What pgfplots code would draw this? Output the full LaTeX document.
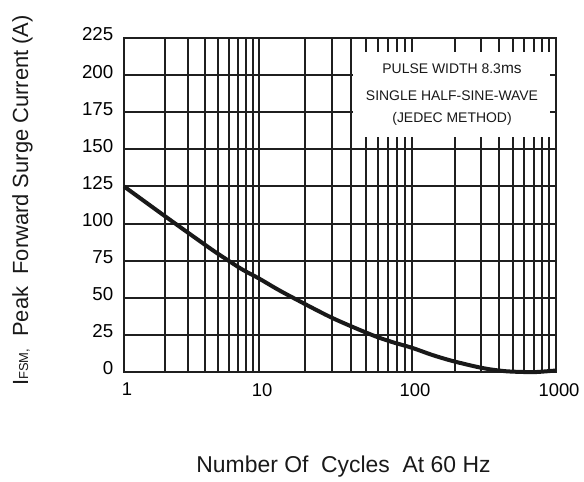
\documentclass[border=0pt]{standalone}
\usepackage{fontspec}
\setmainfont{Liberation Sans}
\usepackage{pgfplots}
\pgfplotsset{compat=1.18}
\begin{document}
\begin{tikzpicture}
\path[use as bounding box] (0bp,0bp) rectangle (584bp,482bp);
\begin{axis}[
  at={(124bp,110bp)}, anchor=south west,
  scale only axis, width=432bp, height=334bp,
  x coord trafo/.code={%
    \pgfmathparse{log10(#1)}%
    \let\u\pgfmathresult
    \pgfmathparse{(\u<=1)*(135*\u) + (\u>1)*(\u<=2)*(135+153*(\u-1)) + (\u>2)*(288+144*(\u-2))}%
  },
  xmin=1, xmax=1000, ymin=0, ymax=225,
  xtick={1,10,100,1000}, xticklabels={1,10,100,1000},
  minor xtick={2,3,4,5,6,7,8,9,20,30,40,50,60,70,80,90,200,300,400,500,600,700,800,900},
  ytick={0,25,...,225},
  xmajorgrids=true, xminorgrids=true, ymajorgrids=true,
  major grid style={black!88, line width=2bp},
  minor grid style={black!88, line width=2bp},
  major tick length=0pt, minor tick length=0pt,
  axis line style={black!88, line width=2.2bp},
  /pgf/number format/assume math mode=true,
  xticklabel style={font=\fontsize{18.5}{20}\selectfont, anchor=north, inner sep=0pt, yshift=-11bp, xshift=3bp},
  yticklabel style={font=\fontsize{18.8}{20}\selectfont, anchor=east, inner sep=0pt, xshift=-10.5bp, yshift=3.5bp},
  clip=false,
]
\fill[white] (axis cs:41.1,158.3) rectangle (axis cs:908,215.6);
\node[anchor=base, font=\fontsize{14}{14}\selectfont, text=black!90] at (axis cs:189.6,200.9) {PULSE WIDTH 8.3{\fontsize{15.5}{15}\selectfont ms}};
\node[anchor=base, font=\fontsize{14}{14}\selectfont, text=black!90] at (axis cs:189.6,183.2) {SINGLE HALF-SINE-WAVE};
\node[anchor=base, font=\fontsize{14}{14}\selectfont, text=black!90] at (axis cs:189.6,168.4) {(JEDEC METHOD)};
\addplot[line width=4bp, color=black!90, smooth, tension=0.5] coordinates {
(1,125) (2.08,104) (4.34,83.3) (5.76,75.8) (7.57,68.9) (10,63) (12.9,56.3)
(16.7,50) (30,36.5) (54.6,25) (73.6,20.3) (100,16.3) (137,11.6) (188,7.6)
(278,3.6) (348,1.8) (450,0.5) (593,0) (735,0) (1000,1.0)
};
\end{axis}
\node[rotate=90, anchor=base, font=\fontsize{22}{22}\selectfont, text=black!90] at (28bp,281.5bp)
  {I{\fontsize{13}{13}\selectfont FSM,}~~Peak~~Forward Surge Current (A)};
\node[anchor=base, font=\fontsize{23}{23}\selectfont, text=black!90] at (343.5bp,9.3bp)
  {Number Of~~Cycles~~At 60 Hz};
\end{tikzpicture}
\end{document}
